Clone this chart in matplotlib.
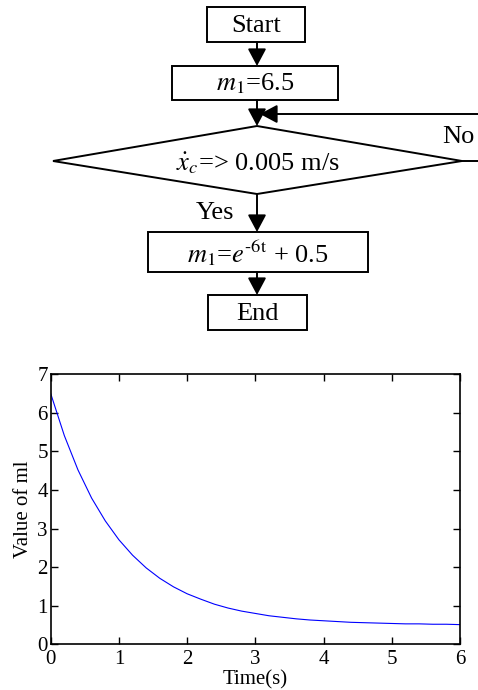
import matplotlib
matplotlib.use('Agg')
import matplotlib.pyplot as plt
from matplotlib.patches import Rectangle, Polygon

plt.rcParams['font.family'] = ['Liberation Serif', 'DejaVu Serif']
plt.rcParams['mathtext.fontset'] = 'stix'

# values
time_s = [0.0, 0.2, 0.4, 0.6, 0.8, 1.0, 1.2, 1.4, 1.6, 1.8, 2.0,
          2.2, 2.4, 2.6, 2.8, 3.0, 3.2, 3.4, 3.6, 3.8, 4.0,
          4.2, 4.4, 4.6, 4.8, 5.0, 5.2, 5.4, 5.6, 5.8, 6.0]
m1_values = [6.50, 5.41, 4.52, 3.79, 3.20, 2.71, 2.31, 1.98, 1.71, 1.49, 1.31,
             1.17, 1.04, 0.94, 0.86, 0.80, 0.74, 0.70, 0.66, 0.63, 0.61,
             0.59, 0.57, 0.56, 0.55, 0.54, 0.53, 0.53, 0.52, 0.52, 0.51]
x_ticks = [0, 1, 2, 3, 4, 5, 6]
y_ticks = [0, 1, 2, 3, 4, 5, 6, 7]

W, H = 478, 690
fig = plt.figure(figsize=(W / 100, H / 100), dpi=100)

# ---- flowchart (pixel coordinates) ----
fc = fig.add_axes([0, 0, 1, 1])
fc.set_xlim(0, W)
fc.set_ylim(H, 0)
fc.axis('off')

lw = 1.4
fs = 19

def box(x0, y0, x1, y1, label):
    fc.add_patch(Rectangle((x0, y0), x1 - x0, y1 - y0, fill=False, ec='black', lw=lw))
    fc.text((x0 + x1) / 2, (y0 + y1) / 2 + 1, label, ha='center', va='center', fontsize=fs)

def arrow(x0, y0, x1, y1):
    fc.annotate('', xy=(x1, y1), xytext=(x0, y0),
                arrowprops=dict(arrowstyle='-|>,head_length=0.75,head_width=0.4',
                                color='black', lw=lw, mutation_scale=14,
                                shrinkA=0, shrinkB=0))

cx = 257
box(207, 7, 305, 42, 'Start')
arrow(cx, 42, cx, 66)
box(172, 66, 338, 100, r'$m_1$=6.5')
arrow(cx, 100, cx, 126)
arrow(W + 2, 114, 260, 114)

fc.add_patch(Polygon([(53, 161), (cx, 126), (462, 161), (cx, 194)],
                     closed=True, fill=False, ec='black', lw=lw))
fc.plot([462, W + 2], [161, 161], color='black', lw=lw)
fc.text(258, 163, r'$\dot{x}_c$=> 0.005 m/s', ha='center', va='center', fontsize=fs)
fc.text(458, 137, 'No', ha='center', va='center', fontsize=fs)
fc.text(215, 213, 'Yes', ha='center', va='center', fontsize=fs)

arrow(cx, 194, cx, 232)
box(148, 232, 368, 272, r'$m_1$=$e^{\text{-6t}}$ + 0.5')
arrow(cx, 272, cx, 295)
box(208, 295, 307, 330, 'End')

# ---- plot ----
left, right, top, bottom = 50.7, 460, 374.3, 644.3
ax = fig.add_axes([left / W, 1 - bottom / H, (right - left) / W, (bottom - top) / H])
ax.plot(time_s, m1_values, color='#0000ff', lw=0.8)
ax.set_xlim(0, 6)
ax.set_ylim(0, 7)
ax.set_xticks(x_ticks)
ax.set_yticks(y_ticks)
ax.tick_params(direction='in', top=True, right=True, length=5, width=1, labelsize=15)
ax.tick_params(axis='x', pad=4)
ax.tick_params(axis='y', pad=2)
for s in ax.spines.values():
    s.set_linewidth(1.2)
ax.set_xlabel('Time(s)', fontsize=15, labelpad=1)
ax.set_ylabel('Value of ml', fontsize=15, labelpad=3)

fig.savefig('out.png', dpi=100)
